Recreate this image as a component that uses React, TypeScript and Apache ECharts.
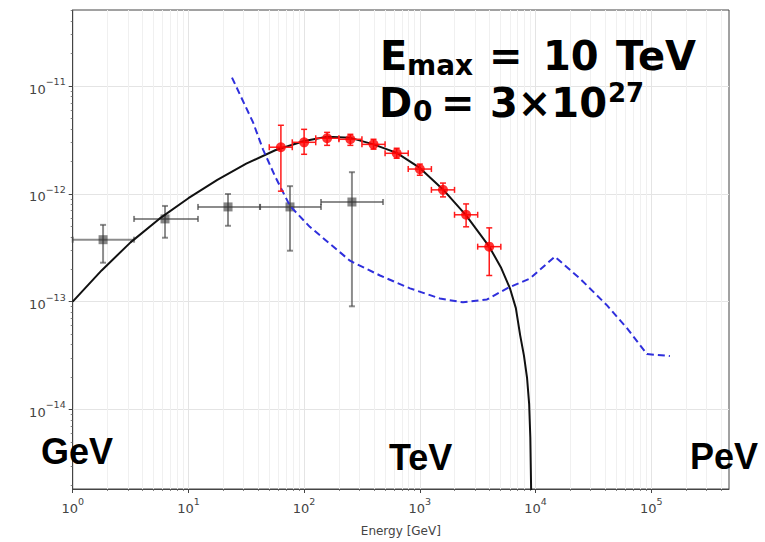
import { useEffect, useRef } from 'react';
import * as echarts from 'echarts';

// ---------- axis ticks ----------
const xMajor = [1, 10, 100, 1000, 10000, 100000];
const xMinor = [
  2, 3, 4, 5, 6, 7, 8, 9,
  20, 30, 40, 50, 60, 70, 80, 90,
  200, 300, 400, 500, 600, 700, 800, 900,
  2e3, 3e3, 4e3, 5e3, 6e3, 7e3, 8e3, 9e3,
  2e4, 3e4, 4e4, 5e4, 6e4, 7e4, 8e4, 9e4,
  2e5, 3e5, 4e5,
];
const yMajor = [1e-14, 1e-13, 1e-12, 1e-11];
const yMinor = [
  2e-15, 3e-15, 4e-15, 5e-15, 6e-15, 7e-15, 8e-15, 9e-15,
  2e-14, 3e-14, 4e-14, 5e-14, 6e-14, 7e-14, 8e-14, 9e-14,
  2e-13, 3e-13, 4e-13, 5e-13, 6e-13, 7e-13, 8e-13, 9e-13,
  2e-12, 3e-12, 4e-12, 5e-12, 6e-12, 7e-12, 8e-12, 9e-12,
  2e-11, 3e-11, 4e-11, 5e-11,
];
const X_MIN = 1;
const X_MAX = 4.7e5;
const Y_MIN = 1.83e-15;
const Y_MAX = 5.08e-11;

// ---------- red data points ----------
const redE = [63, 100, 158, 251, 398, 631, 1000, 1585, 2512, 3981];
const redELo = [50, 79, 126, 200, 316, 501, 794, 1259, 1995, 3162];
const redEHi = [79, 126, 200, 316, 501, 794, 1259, 1995, 3162, 5012];
const redF = [2.71e-12, 3.01e-12, 3.28e-12, 3.21e-12, 2.88e-12, 2.38e-12, 1.7e-12, 1.09e-12, 6.4e-13, 3.24e-13];
const redFHi = [4.33e-12, 3.97e-12, 3.72e-12, 3.57e-12, 3.21e-12, 2.65e-12, 1.89e-12, 1.26e-12, 8.07e-13, 4.84e-13];
const redFLo = [1.06e-12, 2.33e-12, 2.82e-12, 2.82e-12, 2.6e-12, 2.14e-12, 1.49e-12, 9.38e-13, 4.95e-13, 1.75e-13];

// ---------- grey data points ----------
const greyE = [1.83, 6.28, 22.0, 75.5, 259];
const greyELo = [1, 3.39, 12.1, 41.6, 140];
const greyEHi = [3.39, 12.1, 41.6, 140, 481];
const greyF = [3.76e-13, 5.86e-13, 7.57e-13, 7.57e-13, 8.41e-13];
const greyFHi = [5.16e-13, 7.73e-13, 9.98e-13, 1.18e-12, 1.59e-12];
const greyFLo = [2.3e-13, 3.92e-13, 5.06e-13, 2.97e-13, 9.06e-14];

// ---------- black model curve ----------
const modelE = [1, 1.778, 3.162, 5.623, 10, 17.78, 31.62, 56.23, 100, 158.5, 251.2, 398.1, 631, 1000, 1585, 2512, 3981, 5012, 6026, 6761, 7362, 7943, 8453, 8810, 9016, 9162, 9226];
const modelF = [1e-13, 1.95e-13, 3.55e-13, 5.89e-13, 9.12e-13, 1.35e-12, 1.91e-12, 2.54e-12, 3.09e-12, 3.39e-12, 3.31e-12, 2.88e-12, 2.4e-12, 1.74e-12, 1.1e-12, 6.31e-13, 3.24e-13, 2.09e-13, 1.32e-13, 8.71e-14, 4.9e-14, 3.16e-14, 1.95e-14, 1.12e-14, 5.5e-15, 1.82e-15, 6.3e-16];

// ---------- blue dashed curve ----------
const blueE = [23.8, 36.2, 44.1, 56, 75.5, 112, 249, 453, 822, 1493, 2360, 3810, 5670, 8960, 14700, 24200, 41500, 61700, 91800, 145000];
const blueF = [1.2e-11, 4.6e-12, 2.59e-12, 1.46e-12, 7.73e-13, 4.95e-13, 2.4e-13, 1.75e-13, 1.33e-13, 1.07e-13, 9.86e-14, 1.05e-13, 1.33e-13, 1.64e-13, 2.62e-13, 1.64e-13, 9.25e-14, 5.68e-14, 3.27e-14, 3.13e-14];

const LABEL_COLOR = '#444';

function powLabel(v: number) {
  const e = Math.round(Math.log10(v));
  const s = e < 0 ? '\u2212' + Math.abs(e) : String(e);
  return '{b|10}{s|' + s + '}';
}

const richLabel = {
  b: { fontSize: 13, fontFamily: 'DejaVu Sans', color: LABEL_COLOR, lineHeight: 19, verticalAlign: 'bottom' },
  s: { fontSize: 9.5, fontFamily: 'DejaVu Sans', color: LABEL_COLOR, lineHeight: 11, verticalAlign: 'top' },
};

function errRender(color: string, width: number, cap: number) {
  return (_params: any, api: any) => {
    const x = api.value(0);
    const y = api.value(1);
    const pL = api.coord([api.value(2), y]);
    const pR = api.coord([api.value(3), y]);
    const pB = api.coord([x, api.value(4)]);
    const pT = api.coord([x, api.value(5)]);
    const style = { stroke: color, lineWidth: width, fill: null };
    const ln = (x1: number, y1: number, x2: number, y2: number) => ({
      type: 'line',
      shape: { x1, y1, x2, y2 },
      style,
    });
    return {
      type: 'group',
      children: [
        ln(pL[0], pL[1], pR[0], pR[1]),
        ln(pB[0], pB[1], pT[0], pT[1]),
        ln(pL[0], pL[1] - cap, pL[0], pL[1] + cap),
        ln(pR[0], pR[1] - cap, pR[0], pR[1] + cap),
        ln(pB[0] - cap, pB[1], pB[0] + cap, pB[1]),
        ln(pT[0] - cap, pT[1], pT[0] + cap, pT[1]),
      ],
    };
  };
}

function txt(text: string, x: number, y: number, size: number, family: string) {
  return {
    type: 'text',
    x,
    y,
    z: 100,
    silent: true,
    style: {
      text,
      font: `bold ${size}px "${family}"`,
      fill: '#000',
      align: 'left',
      verticalAlign: 'middle',
      textAlign: 'left',
      textVerticalAlign: 'middle',
    },
  };
}

export default function App() {
  const ref = useRef<HTMLDivElement>(null);
  useEffect(() => {
    if (!ref.current) return;
    const chart = echarts.init(ref.current, undefined, { renderer: 'svg' });

    const redData = redE.map((e, i) => [e, redF[i], redELo[i], redEHi[i], redFLo[i], redFHi[i]]);
    const greyData = greyE.map((e, i) => [e, greyF[i], greyELo[i], greyEHi[i], greyFLo[i], greyFHi[i]]);
    const modelData = modelE.map((e, i) => [e, modelF[i]]);
    const blueData = blueE.map((e, i) => [e, blueF[i]]);

    const baseX = {
      type: 'log',
      logBase: 10,
      min: X_MIN,
      max: X_MAX,
      position: 'bottom',
      gridIndex: 0,
    };
    const baseY = {
      type: 'log',
      logBase: 10,
      min: Y_MIN,
      max: Y_MAX,
      position: 'left',
      gridIndex: 0,
    };

    chart.setOption({
      animation: false,
      backgroundColor: '#ffffff',
      grid: {
        left: 72.7,
        right: 36,
        top: 10,
        bottom: 50.3,
        show: true,
        borderColor: '#444',
        borderWidth: 1,
        backgroundColor: 'transparent',
      },
      xAxis: [
        {
          ...baseX,
          name: 'Energy [GeV]',
          nameLocation: 'middle',
          nameGap: 36,
          nameTextStyle: { fontSize: 12, fontFamily: 'DejaVu Sans', color: LABEL_COLOR },
          axisLine: { show: true, lineStyle: { color: '#444', width: 1 } },
          axisTick: { show: true, inside: false, length: 4, customValues: xMajor, lineStyle: { color: '#444', width: 1 } },
          axisLabel: {
            show: true,
            margin: 7,
            customValues: xMajor,
            formatter: (v: number) => powLabel(v),
            rich: richLabel,
          },
          splitLine: { show: true, lineStyle: { color: '#e4e4e4', width: 1 } },
          minorTick: { show: false },
        },
        {
          ...baseX,
          axisLine: { show: false },
          axisTick: { show: true, inside: false, length: 2, customValues: xMinor, lineStyle: { color: '#666', width: 0.8 } },
          axisLabel: { show: false },
          splitLine: { show: true, lineStyle: { color: '#f0f0f0', width: 1 } },
        },
      ],
      yAxis: [
        {
          ...baseY,
          axisLine: { show: true, lineStyle: { color: '#444', width: 1 } },
          axisTick: { show: true, inside: false, length: 4, customValues: yMajor, lineStyle: { color: '#444', width: 1 } },
          axisLabel: {
            show: true,
            margin: 7,
            customValues: yMajor,
            formatter: (v: number) => powLabel(v),
            rich: richLabel,
          },
          splitLine: { show: true, lineStyle: { color: '#e4e4e4', width: 1 } },
        },
        {
          ...baseY,
          axisLine: { show: false },
          axisTick: { show: true, inside: false, length: 2, customValues: yMinor, lineStyle: { color: '#666', width: 0.8 } },
          axisLabel: { show: false },
          splitLine: { show: false },
        },
      ],
      series: [
        {
          type: 'custom',
          name: 'grey-err',
          xAxisIndex: 0,
          yAxisIndex: 0,
          renderItem: errRender('rgba(70,70,70,0.62)', 2, 3),
          data: greyData,
          encode: { x: 0, y: 1 },
          z: 2,
        },
        {
          type: 'scatter',
          name: 'grey',
          xAxisIndex: 0,
          yAxisIndex: 0,
          symbol: 'rect',
          symbolSize: 9,
          itemStyle: { color: 'rgba(45,45,45,0.72)' },
          data: greyData.map((d) => [d[0], d[1]]),
          z: 3,
        },
        {
          type: 'line',
          name: 'model',
          xAxisIndex: 0,
          yAxisIndex: 0,
          data: modelData,
          showSymbol: false,
          smooth: false,
          lineStyle: { color: '#111', width: 2 },
          z: 4,
        },
        {
          type: 'line',
          name: 'sensitivity',
          xAxisIndex: 0,
          yAxisIndex: 0,
          data: blueData,
          showSymbol: false,
          lineStyle: { color: '#2f2fdc', width: 2, type: [7, 4] },
          z: 5,
        },
        {
          type: 'custom',
          name: 'red-err',
          xAxisIndex: 0,
          yAxisIndex: 0,
          renderItem: errRender('#ff1a1a', 1.5, 3),
          data: redData,
          encode: { x: 0, y: 1 },
          z: 6,
        },
        {
          type: 'scatter',
          name: 'red',
          xAxisIndex: 0,
          yAxisIndex: 0,
          symbol: 'circle',
          symbolSize: 10,
          itemStyle: { color: '#ff0000' },
          data: redData.map((d) => [d[0], d[1]]),
          z: 7,
        },
      ],
      graphic: [
        // E_max = 10 TeV
        txt('E', 380, 56, 40, 'DejaVu Sans'),
        txt('max', 407, 65, 28, 'DejaVu Sans'),
        txt('=', 489, 56, 40, 'DejaVu Sans'),
        txt('10', 543, 56, 40, 'DejaVu Sans'),
        txt('TeV', 616, 56, 40, 'DejaVu Sans'),
        // D_0 = 3x10^27
        txt('D', 379, 103, 40, 'DejaVu Sans'),
        txt('0', 413, 111, 28, 'DejaVu Sans'),
        txt('=', 441, 103, 40, 'DejaVu Sans'),
        txt('3\u00d710', 490, 103, 40, 'DejaVu Sans'),
        txt('27', 608, 93, 26, 'DejaVu Sans'),
        // energy scale labels
        txt('GeV', 41, 451, 36, 'Liberation Sans'),
        txt('TeV', 389, 457, 36, 'Liberation Sans'),
        txt('PeV', 690, 456, 36, 'Liberation Sans'),
      ],
    });

    return () => chart.dispose();
  }, []);

  return (
    <div
      ref={ref}
      style={{ position: 'absolute', left: 0, top: 0, width: 765, height: 542, background: '#fff' }}
    />
  );
}
